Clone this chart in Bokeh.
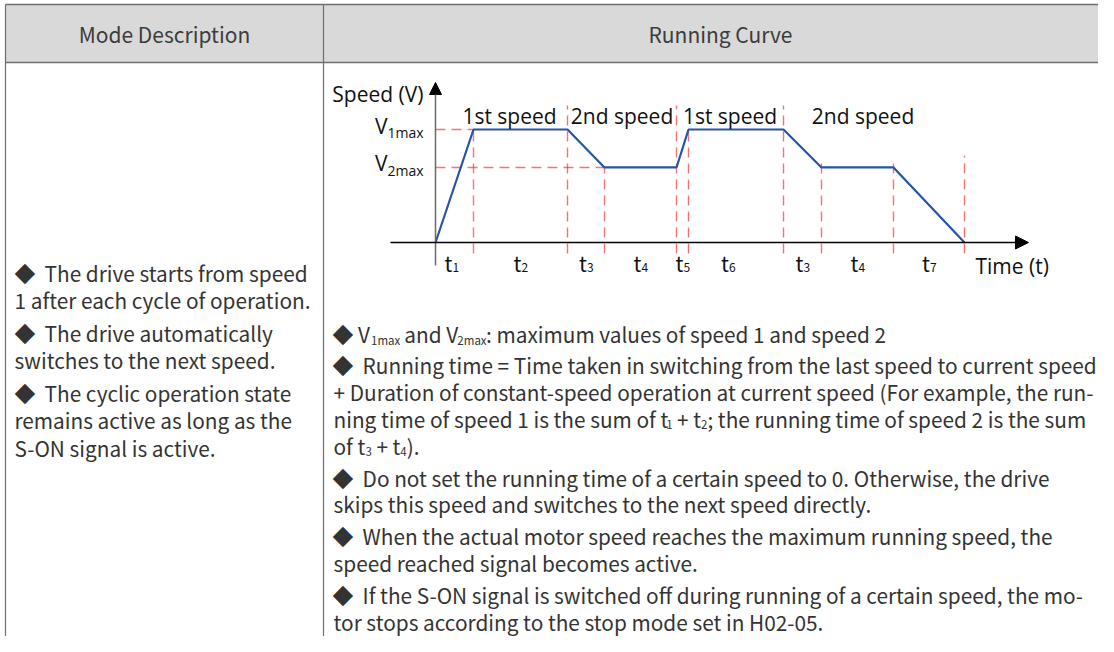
import numpy as np
from bokeh.plotting import figure
from bokeh.models import Range1d, Arrow, NormalHead
from bokeh.core.properties import value
from bokeh.embed import file_html
from bokeh.resources import INLINE

# ---------------- data ----------------
HEADERS = ["Mode Description", "Running Curve"]
PHASE_NAMES = ["1st speed", "2nd speed", "1st speed", "2nd speed"]
PHASE_EDGES = [0, 2, 4, 6, 9]                       # boundary index bounding each speed phase
SEGMENT_SUBSCRIPTS = ["1", "2", "3", "4", "5", "6", "3", "4", "7"]
SEGMENT_DURATIONS = [3.8, 9.4, 3.7, 7.2, 1.2, 9.5, 3.8, 7.2, 7.1]
BOUNDARY_SPEEDS = [0.0, 1.0, 1.0, 0.664, 0.664, 1.0, 1.0, 0.664, 0.664, 0.0]
SPEED_LEVELS = [1.0, 0.664]
SPEED_LEVEL_SUBS = ["1max", "2max"]
GUIDE_TOP_SPEEDS = [1.0, 1.212, 0.664, 1.212, 1.0, 1.212, 0.726, 0.726, 0.77]

NB = "\u00a0"
LEFT_PARAGRAPHS = [
    ["◆" + NB + " The drive starts from speed", "1 after each cycle of operation."],
    ["◆" + NB + " The drive automatically", "switches to the next speed."],
    ["◆" + NB + " The cyclic operation state", "remains active as long as the", "S-ON signal is active."],
]
# each line is a list of (text, is_subscript)
RIGHT_PARAGRAPHS = [
    [[("◆ V", 0), ("1max", 1), (" and V", 0), ("2max", 1), (": maximum values of speed 1 and speed 2", 0)]],
    [[("◆" + NB + " Running time = Time taken in switching from the last speed to current speed", 0)],
     [("+ Duration of constant-speed operation at current speed (For example, the run-", 0)],
     [("ning time of speed 1 is the sum of t", 0), ("1", 1), (" + t", 0), ("2", 1),
      ("; the running time of speed 2 is the sum", 0)],
     [("of t", 0), ("3", 1), (" + t", 0), ("4", 1), (").", 0)]],
    [[("◆" + NB + " Do not set the running time of a certain speed to 0. Otherwise, the drive", 0)],
     [("skips this speed and switches to the next speed directly.", 0)]],
    [[("◆" + NB + " When the actual motor speed reaches the maximum running speed, the", 0)],
     [("speed reached signal becomes active.", 0)]],
    [[("◆" + NB + " If the S-ON signal is switched off during running of a certain speed, the mo-", 0)],
     [("tor stops according to the stop mode set in H02-05.", 0)]],
]

# ---------------- styles / layout ----------------
BODY_FONT = "Noto Sans CJK SC"
CHART_FONT = "Open Sans"
TEXT_COLOR = "#333333"
BODY_SIZE = 20.8
SUB_SIZE = 11.5

W, H = 1098, 636
X0, Y0 = 0.0, 0.0
TABLE_LEFT, COL_SPLIT, TABLE_RIGHT = 5, 323, 1117
HEAD_TOP, HEAD_BOTTOM = 4, 62

# approximate advance widths (per 1000 em) used to chain text pieces
_W = dict(zip("abcdefghijklmnopqrstuvwxyz",
              [482, 552, 459, 552, 497, 304, 496, 542, 245, 250, 492, 251, 822, 542, 537, 552, 552, 347,
               419, 338, 538, 467, 707, 443, 467, 420]))
_W.update(dict(zip("ABCDEFGHIJKLMNOPQRSTUVWXYZ",
                   [544, 589, 571, 615, 527, 495, 617, 652, 262, 473, 581, 483, 729, 647, 664, 578, 664,
                    584, 539, 543, 645, 516, 790, 508, 481, 538])))
_W.update({c: 497 for c in "0123456789+="})
_W.update({" ": 200, NB: 200, ".": 249, ",": 249, ":": 249, ";": 249, "(": 303, ")": 303, "-": 311, "◆": 950})
W_SCALE = 1.112


def text_width(s, size):
    return sum(_W.get(c, 500) for c in s) * size / 1000.0 * W_SCALE


p = figure(width=W, height=H, x_range=Range1d(X0, X0 + W), y_range=Range1d(Y0 + H, Y0),
           output_backend="svg", toolbar_location=None, min_border=0,
           x_axis_location=None, y_axis_location=None)
p.grid.visible = False
p.outline_line_color = None
p.background_fill_color = "white"
p.border_fill_color = "white"


def put(x, y, s, size, align="left", font=BODY_FONT, color=TEXT_COLOR, baseline="middle", **kw):
    p.text(x=[x], y=[y], text=[s], text_align=align, text_baseline=baseline,
           text_font=value(font), text_font_size=f"{size}px", text_color=color, **kw)


# ---------------- table ----------------
p.quad(left=[TABLE_LEFT], right=[TABLE_RIGHT], top=[HEAD_TOP], bottom=[HEAD_BOTTOM],
       fill_color="#d9d9d9", line_color=None)
p.segment(x0=[TABLE_LEFT, TABLE_LEFT], y0=[HEAD_TOP, HEAD_BOTTOM], x1=[TABLE_RIGHT, TABLE_RIGHT],
          y1=[HEAD_TOP, HEAD_BOTTOM], line_color="#6f6f6f", line_width=1.6)
p.segment(x0=[TABLE_LEFT, COL_SPLIT], y0=[HEAD_TOP, HEAD_TOP], x1=[TABLE_LEFT, COL_SPLIT],
          y1=[Y0 + H, Y0 + H], line_color="#6f6f6f", line_width=1.2)

head_y = (HEAD_TOP + HEAD_BOTTOM) / 2
put((TABLE_LEFT + COL_SPLIT) / 2, head_y, HEADERS[0], 21, align="center", color="#3c3c3c")
put(720, head_y, HEADERS[1], 21, align="center", color="#3c3c3c")

# left column
y = 272
for para in LEFT_PARAGRAPHS:
    for li, line in enumerate(para):
        put(14, y, line, BODY_SIZE)
        y += 27.5 if li < len(para) - 1 else 32.5

# right column
y = 333
for para in RIGHT_PARAGRAPHS:
    for li, line in enumerate(para):
        x = 332 if line[0][0].startswith("◆") else 333
        for txt, sub in line:
            size = SUB_SIZE if sub else BODY_SIZE
            lead = len(txt) - len(txt.lstrip(" "))
            x += lead * text_width(" ", BODY_SIZE)
            core = txt.strip(" ")
            put(x, y + (6 if sub else 0), core, size)
            x += text_width(core, size)
        y += 26.8 if li < len(para) - 1 else 31.8

# ---------------- chart ----------------
ORIGIN_X, ORIGIN_Y = 435, 242
PX_T, PX_V = 10.0, 113.0
p.extra_x_ranges = {"t": Range1d((X0 - ORIGIN_X) / PX_T, (X0 + W - ORIGIN_X) / PX_T)}
p.extra_y_ranges = {"v": Range1d((ORIGIN_Y - (Y0 + H)) / PX_V, (ORIGIN_Y - Y0) / PX_V)}
CH = dict(x_range_name="t", y_range_name="v")


def dt(px):
    return px / PX_T


def dv(px):
    return px / PX_V


bounds = np.concatenate([[0.0], np.cumsum(SEGMENT_DURATIONS)])
speeds = np.array(BOUNDARY_SPEEDS)

# dashed guides
GUIDE = dict(line_color="#f03a3a", line_alpha=0.7, line_width=1.4, line_dash="10 6", **CH)
p.segment(x0=bounds[1:], y0=[-dv(11)] * len(GUIDE_TOP_SPEEDS), x1=bounds[1:], y1=GUIDE_TOP_SPEEDS, **GUIDE)
h_end = [bounds[int(np.argmax(np.isclose(speeds, lv)))] for lv in SPEED_LEVELS]
p.segment(x0=[0.0] * len(SPEED_LEVELS), y0=SPEED_LEVELS, x1=h_end, y1=SPEED_LEVELS, **GUIDE)

# axes
p.add_layout(Arrow(end=NormalHead(size=12, fill_color="black", line_color="black"),
                   x_start=0, y_start=-dv(23), x_end=0, y_end=dv(160),
                   line_color="#6a6a6a", line_width=1.5, **CH))
p.add_layout(Arrow(end=NormalHead(size=13, fill_color="black", line_color="black"),
                   x_start=dt(-45), y_start=0, x_end=dt(593), y_end=0,
                   line_color="black", line_width=1.3, **CH))

# speed curve
p.line(bounds, speeds, line_color="#2554a8", line_width=2.2, **CH)

# labels
phase_nudge = [dt(8), 0, 0, dt(-11)]
for i, name in enumerate(PHASE_NAMES):
    xm = (bounds[PHASE_EDGES[i]] + bounds[PHASE_EDGES[i + 1]]) / 2 + phase_nudge[i]
    put(xm, SPEED_LEVELS[0] + dv(14), name, 21, align="center", font=CHART_FONT, color="#111111", **CH)

mids = (bounds[:-1] + bounds[1:]) / 2
t_nudge = [dt(-3), 0, 0, 0, 0, dt(-8), 0, 0, 0]
for xm, sub, nd in zip(mids, SEGMENT_SUBSCRIPTS, t_nudge):
    put(xm + nd + dt(1), -dv(20), "t", 21, align="right", color="#111111", **CH)
    put(xm + nd + dt(1), -dv(25), sub, 12, align="left", color="#111111", **CH)

put(dt(-12), dv(149), "Speed (V)", 21, align="right", font=CHART_FONT, color="#111111", **CH)
for lv, sub in zip(SPEED_LEVELS, SPEED_LEVEL_SUBS):
    put(dt(-48), lv + dv(4), "V", 21, align="right", font=CHART_FONT, color="#111111", **CH)
    put(dt(-48), lv - dv(3), sub, 14, align="left", font=CHART_FONT, color="#111111", **CH)
put(dt(540), -dv(23), "Time (t)", 21, align="left", font=CHART_FONT, color="#111111", **CH)

open("out.html", "w").write(file_html(p, INLINE))
